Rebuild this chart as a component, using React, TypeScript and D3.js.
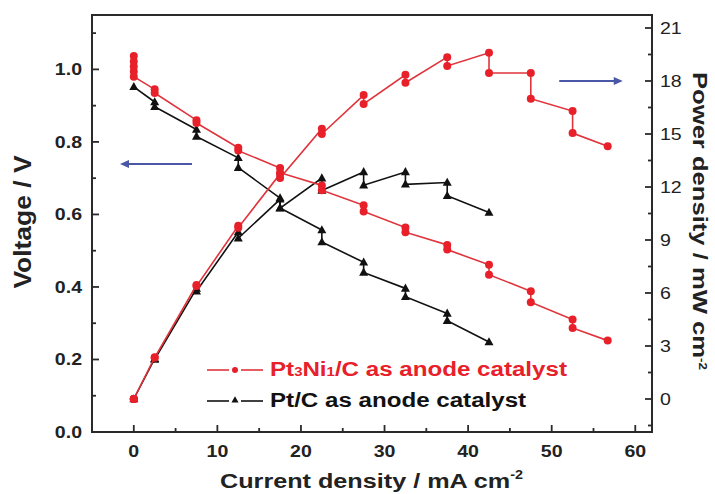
import React from "react";
import * as d3 from "d3";

const ptniCurrent = [0, 0, 0, 0, 0, 2.5, 2.5, 7.5, 7.5, 12.5, 12.5, 17.5, 17.5, 22.5, 22.5, 27.5, 27.5, 32.5, 32.5, 37.5, 37.5, 42.5, 42.5, 47.5, 47.5, 52.5, 52.5, 56.7];
const ptniVoltage = [1.037, 1.022, 1.008, 0.994, 0.98, 0.945, 0.935, 0.86, 0.852, 0.784, 0.776, 0.728, 0.715, 0.68, 0.667, 0.625, 0.608, 0.564, 0.551, 0.516, 0.503, 0.461, 0.434, 0.388, 0.358, 0.31, 0.287, 0.252];
const ptniPower = [0, 0, 0, 0, 0, 2.36, 2.34, 6.45, 6.39, 9.8, 9.7, 12.74, 12.51, 15.3, 15.0, 17.2, 16.7, 18.35, 17.9, 19.35, 18.85, 19.6, 18.45, 18.45, 17.0, 16.3, 15.05, 14.3];

const ptCurrent = [0, 2.5, 2.5, 7.5, 7.5, 12.5, 12.5, 17.5, 17.5, 22.5, 22.5, 27.5, 27.5, 32.5, 32.5, 37.5, 37.5, 42.5];
const ptVoltage = [0.952, 0.91, 0.897, 0.834, 0.815, 0.756, 0.729, 0.645, 0.618, 0.557, 0.524, 0.468, 0.44, 0.396, 0.373, 0.327, 0.307, 0.248];
const ptPower = [0, 2.28, 2.24, 6.25, 6.1, 9.45, 9.1, 11.3, 10.8, 12.5, 11.8, 12.85, 12.1, 12.85, 12.15, 12.25, 11.5, 10.55];

const xTicks = [0, 10, 20, 30, 40, 50, 60];
const xMinor = [5, 15, 25, 35, 45, 55];
const vTicks = [0, 0.2, 0.4, 0.6, 0.8, 1.0];
const vMinor = [0.1, 0.3, 0.5, 0.7, 0.9, 1.1];
const pTicks = [0, 3, 6, 9, 12, 15, 18, 21];
const pMinor = [-1.5, 1.5, 4.5, 7.5, 10.5, 13.5, 16.5, 19.5];

const RED = "#e8202a";
const RED_LINE = "#e0343c";
const BLACK = "#111";
const BLUE = "#4a56a6";
const AXIS = "#2a2a2a";
const FONT = "'Liberation Sans', Arial, Helvetica, sans-serif";
const SX = 1.15;

const L = 92, R = 652, T = 15, B = 432;

const x = d3.scaleLinear().domain([-5, 62]).range([L, R]);
const yV = d3.scaleLinear().domain([0, 1.15]).range([B, T]);
const yP = d3.scaleLinear().domain([-1.868, 21.735]).range([B, T]);

function Txt({ x, y, rotate = 0, sx = SX, children, ...rest }: any) {
  return (
    <text transform={`translate(${x},${y}) rotate(${rotate}) scale(${sx},1)`} fontFamily={FONT} {...rest}>
      {children}
    </text>
  );
}

function tri(cx: number, cy: number, s: number) {
  const h = s * 0.9;
  return `M${cx},${cy - h * 0.6}L${cx + s / 2},${cy + h * 0.4}L${cx - s / 2},${cy + h * 0.4}Z`;
}

export default function App() {
  const lineV = (xs: number[], ys: number[]) =>
    d3.line<number>().x((_, i) => x(xs[i])).y((d) => yV(d))(ys) || "";
  const lineP = (xs: number[], ys: number[]) =>
    d3.line<number>().x((_, i) => x(xs[i])).y((d) => yP(d))(ys) || "";

  const series = [
    { xs: ptCurrent, v: ptVoltage, p: ptPower, color: BLACK, lineColor: BLACK, marker: "tri" },
    { xs: ptniCurrent, v: ptniVoltage, p: ptniPower, color: RED, lineColor: RED_LINE, marker: "circle" },
  ];

  return (
    <svg width={715} height={494} style={{ position: "absolute", left: 0, top: 0, background: "#fff" }}>
      <rect x={0} y={0} width={715} height={494} fill="#fff" />
      {series.map((s, si) => (
        <g key={si}>
          <path d={lineV(s.xs, s.v)} fill="none" stroke={s.lineColor} strokeWidth={1.6} />
          <path d={lineP(s.xs, s.p)} fill="none" stroke={s.lineColor} strokeWidth={1.6} />
          {[...s.v.map((d, i) => [x(s.xs[i]), yV(d)]), ...s.p.map((d, i) => [x(s.xs[i]), yP(d)])].map(([cx, cy], i) =>
            s.marker === "circle" ? (
              <circle key={i} cx={cx} cy={cy} r={4} fill={s.color} />
            ) : (
              <path key={i} d={tri(cx, cy, 9)} fill={s.color} />
            )
          )}
        </g>
      ))}

      {/* frame */}
      <rect x={L} y={T} width={R - L} height={B - T} fill="none" stroke={AXIS} strokeWidth={2} />

      {/* bottom ticks */}
      {xTicks.map((t) => (
        <g key={"xt" + t}>
          <line x1={x(t)} x2={x(t)} y1={B} y2={B - 7} stroke={AXIS} strokeWidth={1.8} />
          <Txt x={x(t)} y={457} textAnchor="middle" fontSize={17} fontWeight="bold" fill="#222">{t}</Txt>
        </g>
      ))}
      {xMinor.map((t) => (
        <line key={"xm" + t} x1={x(t)} x2={x(t)} y1={B} y2={B - 4} stroke={AXIS} strokeWidth={1.8} />
      ))}

      {/* left ticks */}
      {vTicks.map((t) => (
        <g key={"vt" + t}>
          <line x1={L} x2={L + 7} y1={yV(t)} y2={yV(t)} stroke={AXIS} strokeWidth={1.8} />
          <Txt x={82} y={yV(t) + 6} textAnchor="end" fontSize={17} fontWeight="bold" fill="#222">{t.toFixed(1)}</Txt>
        </g>
      ))}
      {vMinor.map((t) => (
        <line key={"vm" + t} x1={L} x2={L + 4} y1={yV(t)} y2={yV(t)} stroke={AXIS} strokeWidth={1.8} />
      ))}

      {/* right ticks */}
      {pTicks.map((t) => (
        <g key={"pt" + t}>
          <line x1={R} x2={R - 7} y1={yP(t)} y2={yP(t)} stroke={AXIS} strokeWidth={1.8} />
          <Txt x={660} y={yP(t) + 6} textAnchor="start" fontSize={17} fill="#222">{t}</Txt>
        </g>
      ))}
      {pMinor.map((t) => (
        <line key={"pm" + t} x1={R} x2={R - 4} y1={yP(t)} y2={yP(t)} stroke={AXIS} strokeWidth={1.8} />
      ))}

      {/* axis titles */}
      <Txt x={220} y={488} fontSize={21} sx={1.2} fontWeight="bold" fill="#222">
        Current density / mA cm<tspan fontSize={12} dy={-9}>-2</tspan>
      </Txt>
      <Txt x={31} y={222} rotate={-90} textAnchor="middle" fontSize={23} fontWeight="bold" fill="#222">
        Voltage / V
      </Txt>
      <Txt x={693} y={72} rotate={90} textAnchor="start" fontSize={21} sx={1.22} fontWeight="bold" fill="#222">
        Power density / mW cm<tspan fontSize={11} dy={-6}>-2</tspan>
      </Txt>

      {/* arrows */}
      <line x1={x(-1.2)} x2={x(6.96)} y1={yV(0.739)} y2={yV(0.739)} stroke={BLUE} strokeWidth={2} />
      <path d={`M${x(-1.65)},${yV(0.739)}l9,-4l0,8Z`} fill={BLUE} />
      <line x1={x(50.9)} x2={x(58)} y1={yP(18)} y2={yP(18)} stroke={BLUE} strokeWidth={2} />
      <path d={`M${x(58.5)},${yP(18)}l-9,-4l0,8Z`} fill={BLUE} />

      {/* legend */}
      <line x1={207} x2={229} y1={370} y2={370} stroke={RED_LINE} strokeWidth={1.6} />
      <line x1={241} x2={263} y1={370} y2={370} stroke={RED_LINE} strokeWidth={1.6} />
      <circle cx={235} cy={370} r={3} fill={RED} />
      <Txt x={270} y={376} fontSize={21} fontWeight="bold" fill={RED}>
        Pt<tspan fontSize={13}>3</tspan>Ni<tspan fontSize={13}>1</tspan>/C as anode catalyst
      </Txt>
      <line x1={207} x2={229} y1={401} y2={401} stroke={BLACK} strokeWidth={1.6} />
      <line x1={241} x2={263} y1={401} y2={401} stroke={BLACK} strokeWidth={1.6} />
      <path d={tri(235, 400, 7)} fill={BLACK} />
      <Txt x={270} y={407} fontSize={21} fontWeight="bold" fill={BLACK}>
        Pt/C as anode catalyst
      </Txt>
    </svg>
  );
}
